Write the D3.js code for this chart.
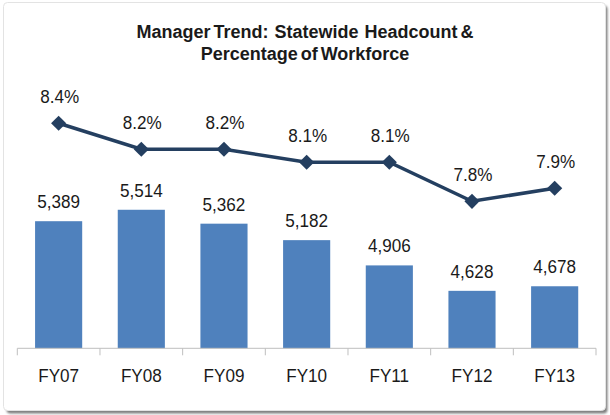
<!DOCTYPE html>
<html lang="en">
<head>
<meta charset="utf-8">
<title>Manager Trend</title>
<style type="text/css">
    body {
        margin: 0;
        background-color: #fff;
    }
    svg text {
        font-family: Arial, "Liberation Sans", sans-serif;
        fill: #1a1a1a;
    }
    .title {
        font-size: 18px;
        font-weight: bold;
        white-space: pre;
        word-spacing: -2px;
    }
    .lbl {
        font-size: 19px;
    }
    .axis line, .axis path {
        stroke: #bfbfbf;
    }
</style>
<script src="https://d3js.org/d3.v7.min.js"></script>
</head>
<body>
<div id="chart"></div>
<script>

var years = ['FY07', 'FY08', 'FY09', 'FY10', 'FY11', 'FY12', 'FY13'];
var headcount = [5389, 5514, 5362, 5182, 4906, 4628, 4678];
var pctWorkforce = [8.4, 8.2, 8.2, 8.1, 8.1, 7.8, 7.9];
var titleLines = ['Manager Trend:  Statewide  Headcount &', 'Percentage of Workforce'];

var width = 610, height = 415;
var plotLeft = 17.3, plotRight = 596, plotTop = 73.8, plotBottom = 348.3;
var squeeze = 0.9;

var svg = d3.select('#chart')
    .append('svg')
    .attr('width', width)
    .attr('height', height);

// frame with a soft shadow on right / bottom
var defs = svg.append('defs');
var f = defs.append('filter').attr('id', 'shadow')
    .attr('x', '-5%').attr('y', '-5%').attr('width', '110%').attr('height', '110%');
f.append('feGaussianBlur').attr('stdDeviation', 1.2);

svg.append('rect')
    .attr('x', 6.5).attr('y', 5.5)
    .attr('width', 601).attr('height', 408)
    .attr('rx', 4)
    .attr('fill', '#7f7f7f')
    .attr('filter', 'url(#shadow)');

svg.append('rect')
    .attr('x', 3.5).attr('y', 2.5)
    .attr('width', 602).attr('height', 408)
    .attr('rx', 4)
    .attr('fill', '#fff')
    .attr('stroke', '#e3e3e3');

// scales
var xScale = d3.scaleBand()
    .domain(years)
    .range([plotLeft, plotRight])
    .paddingInner(0.43)
    .paddingOuter(0.215);

var yBar = d3.scaleLinear()
    .domain([4000, 7000])
    .range([plotBottom, plotTop]);

var yPct = d3.scaleLinear()
    .domain([6.67, 8.78])
    .range([plotBottom, plotTop]);

var data = years.map(function(d, i) {
    return { year: d, count: headcount[i], pct: pctWorkforce[i] };
});

function cx(d) {
    return xScale(d.year) + xScale.bandwidth() / 2;
}

// title
svg.selectAll('.title')
    .data(titleLines)
    .enter()
    .append('text')
    .attr('class', 'title')
    .attr('x', width / 2)
    .attr('y', function(d, i) { return 38 + i * 21.6; })
    .attr('text-anchor', 'middle')
    .text(function(d) { return d; });

// bars
svg.selectAll('.bar')
    .data(data)
    .enter()
    .append('rect')
    .attr('class', 'bar')
    .attr('x', function(d) { return xScale(d.year); })
    .attr('y', function(d) { return yBar(d.count); })
    .attr('width', xScale.bandwidth())
    .attr('height', function(d) { return plotBottom - yBar(d.count); })
    .attr('fill', '#4f81bd');

// bar labels
svg.selectAll('.barLabel')
    .data(data)
    .enter()
    .append('text')
    .attr('class', 'lbl')
    .attr('text-anchor', 'middle')
    .attr('transform', function(d) {
        return 'translate(' + cx(d) + ',' + (yBar(d.count) - 13) + ') scale(' + squeeze + ',1)';
    })
    .text(function(d) { return d3.format(',')(d.count); });

// x axis: labels from the band scale, ticks at the band edges
var xAxis = d3.axisBottom(xScale).tickSize(0).tickPadding(0);
var xAxisG = svg.append('g')
    .attr('class', 'axis')
    .attr('transform', 'translate(0,' + plotBottom + ')')
    .call(xAxis);
xAxisG.select('.domain').attr('d', 'M' + plotLeft + ',0H' + plotRight);
xAxisG.selectAll('.tick text')
    .attr('class', 'lbl')
    .attr('y', 0)
    .attr('dy', 0)
    .attr('transform', 'translate(0,33.4) scale(' + squeeze + ',1)')
    .style('fill', '#1a1a1a')
    .style('font-size', '19px');

var edges = years.map(function(d) { return xScale(d) - xScale.step() * xScale.paddingInner() / 2; });
edges[0] = plotLeft;
edges.push(plotRight);
xAxisG.selectAll('.edgeTick')
    .data(edges)
    .enter()
    .append('line')
    .attr('x1', function(d) { return d; })
    .attr('x2', function(d) { return d; })
    .attr('y1', 0)
    .attr('y2', 7);

// line series
var line = d3.line()
    .x(cx)
    .y(function(d) { return yPct(d.pct); });

svg.append('path')
    .datum(data)
    .attr('d', line)
    .attr('fill', 'none')
    .attr('stroke', '#243f60')
    .attr('stroke-width', 3.5);

svg.selectAll('.marker')
    .data(data)
    .enter()
    .append('path')
    .attr('d', d3.symbol().type(d3.symbolSquare).size(115))
    .attr('transform', function(d) {
        return 'translate(' + cx(d) + ',' + yPct(d.pct) + ') rotate(45)';
    })
    .attr('fill', '#243f60');

svg.selectAll('.pctLabel')
    .data(data)
    .enter()
    .append('text')
    .attr('class', 'lbl')
    .attr('text-anchor', 'middle')
    .attr('transform', function(d) {
        return 'translate(' + (cx(d) + 1) + ',' + (yPct(d.pct) - 20.5) + ') scale(' + squeeze + ',1)';
    })
    .text(function(d) { return d.pct.toFixed(1) + '%'; });

</script>
</body>
</html>
